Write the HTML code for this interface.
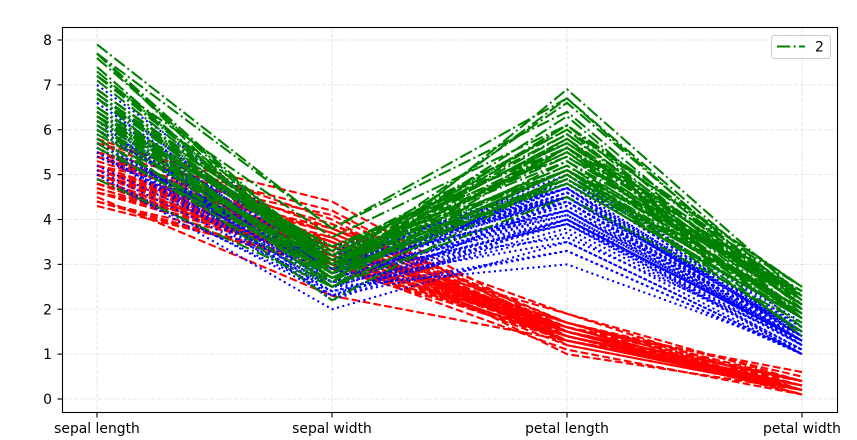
<!DOCTYPE html>
<html><head><meta charset="utf-8">
<style>
html,body{margin:0;padding:0;background:#fff;}
svg{display:block;font-family:"DejaVu Sans","Liberation Sans",sans-serif;}
</style></head>
<body>
<svg id="chart" width="857" height="440" viewBox="0 0 857 440">
  <rect x="0" y="0" width="857" height="440" fill="#fff"/>
  <g id="grid"></g>
  <g id="series"></g>
  <rect x="62.5" y="27.5" width="775" height="385" fill="none" stroke="#000" stroke-width="1.1"/>
  <g id="yticks"></g>
  <g id="xticks"></g>
  <g>
    <rect x="771.5" y="35.5" width="59" height="23" rx="2.5" fill="#fff" fill-opacity="0.8" stroke="#ccc"/>
    <line x1="777" y1="46.5" x2="805" y2="46.5" stroke="green" stroke-width="2.08" stroke-dasharray="13.3,3.3,2.08,3.3"/>
    <text x="815" y="51.5" font-size="13.9" fill="#000">2</text>
  </g>
</svg>
<script>
const categories = ["sepal length","sepal width","petal length","petal width"];
const yTicks = [0,1,2,3,4,5,6,7,8];
const setosa = [
[5.1,3.5,1.4,0.2],[4.9,3.0,1.4,0.2],[4.7,3.2,1.3,0.2],[4.6,3.1,1.5,0.2],[5.0,3.6,1.4,0.2],
[5.4,3.9,1.7,0.4],[4.6,3.4,1.4,0.3],[5.0,3.4,1.5,0.2],[4.4,2.9,1.4,0.2],[4.9,3.1,1.5,0.1],
[5.4,3.7,1.5,0.2],[4.8,3.4,1.6,0.2],[4.8,3.0,1.4,0.1],[4.3,3.0,1.1,0.1],[5.8,4.0,1.2,0.2],
[5.7,4.4,1.5,0.4],[5.4,3.9,1.3,0.4],[5.1,3.5,1.4,0.3],[5.7,3.8,1.7,0.3],[5.1,3.8,1.5,0.3],
[5.4,3.4,1.7,0.2],[5.1,3.7,1.5,0.4],[4.6,3.6,1.0,0.2],[5.1,3.3,1.7,0.5],[4.8,3.4,1.9,0.2],
[5.0,3.0,1.6,0.2],[5.0,3.4,1.6,0.4],[5.2,3.5,1.5,0.2],[5.2,3.4,1.4,0.2],[4.7,3.2,1.6,0.2],
[4.8,3.1,1.6,0.2],[5.4,3.4,1.5,0.4],[5.2,4.1,1.5,0.1],[5.5,4.2,1.4,0.2],[4.9,3.1,1.5,0.1],
[5.0,3.2,1.2,0.2],[5.5,3.5,1.3,0.2],[4.9,3.1,1.5,0.1],[4.4,3.0,1.3,0.2],[5.1,3.4,1.5,0.2],
[5.0,3.5,1.3,0.3],[4.5,2.3,1.3,0.3],[4.4,3.2,1.3,0.2],[5.0,3.5,1.6,0.6],[5.1,3.8,1.9,0.4],
[4.8,3.0,1.4,0.3],[5.1,3.8,1.6,0.2],[4.6,3.2,1.4,0.2],[5.3,3.7,1.5,0.2],[5.0,3.3,1.4,0.2]];
const versicolor = [
[7.0,3.2,4.7,1.4],[6.4,3.2,4.5,1.5],[6.9,3.1,4.9,1.5],[5.5,2.3,4.0,1.3],[6.5,2.8,4.6,1.5],
[5.7,2.8,4.5,1.3],[6.3,3.3,4.7,1.6],[4.9,2.4,3.3,1.0],[6.6,2.9,4.6,1.3],[5.2,2.7,3.9,1.4],
[5.0,2.0,3.5,1.0],[5.9,3.0,4.2,1.5],[6.0,2.2,4.0,1.0],[6.1,2.9,4.7,1.4],[5.6,2.9,3.6,1.3],
[6.7,3.1,4.4,1.4],[5.6,3.0,4.5,1.5],[5.8,2.7,4.1,1.0],[6.2,2.2,4.5,1.5],[5.6,2.5,3.9,1.1],
[5.9,3.2,4.8,1.8],[6.1,2.8,4.0,1.3],[6.3,2.5,4.9,1.5],[6.1,2.8,4.7,1.2],[6.4,2.9,4.3,1.3],
[6.6,3.0,4.4,1.4],[6.8,2.8,4.8,1.4],[6.7,3.0,5.0,1.7],[6.0,2.9,4.5,1.5],[5.7,2.6,3.5,1.0],
[5.5,2.4,3.8,1.1],[5.5,2.4,3.7,1.0],[5.8,2.7,3.9,1.2],[6.0,2.7,5.1,1.6],[5.4,3.0,4.5,1.5],
[6.0,3.4,4.5,1.6],[6.7,3.1,4.7,1.5],[6.3,2.3,4.4,1.3],[5.6,3.0,4.1,1.3],[5.5,2.5,4.0,1.3],
[5.5,2.6,4.4,1.2],[6.1,3.0,4.6,1.4],[5.8,2.6,4.0,1.2],[5.0,2.3,3.3,1.0],[5.6,2.7,4.2,1.3],
[5.7,3.0,4.2,1.2],[5.7,2.9,4.2,1.3],[6.2,2.9,4.3,1.3],[5.1,2.5,3.0,1.1],[5.7,2.8,4.1,1.3]];
const virginica = [
[6.3,3.3,6.0,2.5],[5.8,2.7,5.1,1.9],[7.1,3.0,5.9,2.1],[6.3,2.9,5.6,1.8],[6.5,3.0,5.8,2.2],
[7.6,3.0,6.6,2.1],[4.9,2.5,4.5,1.7],[7.3,2.9,6.3,1.8],[6.7,2.5,5.8,1.8],[7.2,3.6,6.1,2.5],
[6.5,3.2,5.1,2.0],[6.4,2.7,5.3,1.9],[6.8,3.0,5.5,2.1],[5.7,2.5,5.0,2.0],[5.8,2.8,5.1,2.4],
[6.4,3.2,5.3,2.3],[6.5,3.0,5.5,1.8],[7.7,3.8,6.7,2.2],[7.7,2.6,6.9,2.3],[6.0,2.2,5.0,1.5],
[6.9,3.2,5.7,2.3],[5.6,2.8,4.9,2.0],[7.7,2.8,6.7,2.0],[6.3,2.7,4.9,1.8],[6.7,3.3,5.7,2.1],
[7.2,3.2,6.0,1.8],[6.2,2.8,4.8,1.8],[6.1,3.0,4.9,1.8],[6.4,2.8,5.6,2.1],[7.2,3.0,5.8,1.6],
[7.4,2.8,6.1,1.9],[7.9,3.8,6.4,2.0],[6.4,2.8,5.6,2.2],[6.3,2.8,5.1,1.5],[6.1,2.6,5.6,1.4],
[7.7,3.0,6.1,2.3],[6.3,3.4,5.6,2.4],[6.4,3.1,5.5,1.8],[6.0,3.0,4.8,1.8],[6.9,3.1,5.4,2.1],
[6.7,3.1,5.6,2.4],[6.9,3.1,5.1,2.3],[5.8,2.7,5.1,1.9],[6.8,3.2,5.9,2.3],[6.7,3.3,5.7,2.5],
[6.7,3.0,5.2,2.3],[6.3,2.5,5.0,1.9],[6.5,3.0,5.2,2.0],[6.2,3.4,5.4,2.3],[5.9,3.0,5.1,1.8]];

const NS="http://www.w3.org/2000/svg";
function xPos(i){ return 97 + i*(802-97)/(categories.length-1); }
function yPos(v){ return 399 - v*(399-40)/8; }
function mk(tag, attrs, parent){
  const e=document.createElementNS(NS,tag);
  for(const k in attrs) e.setAttribute(k, attrs[k]);
  parent.appendChild(e); return e;
}
const grid=document.getElementById('grid');
const yt=document.getElementById('yticks');
const xt=document.getElementById('xticks');
yTicks.forEach(t=>{
  const y=yPos(t);
  const g=mk('line',{x1:62.5,x2:837.5,y1:y,y2:y,stroke:'#b0b0b0','stroke-opacity':0.3,'stroke-dasharray':'4.1,1.8','stroke-width':1.1},grid);
  
  
  const tk=mk('line',{x1:57.5,x2:62.5,y1:y,y2:y,stroke:'#000','stroke-width':1.1},yt);
  
  
  const tx=mk('text',{x:52,y:y+5,'text-anchor':'end','font-size':13.9,fill:'#000'},yt);
  tx.textContent=t;
  
  
});
categories.forEach((c,i)=>{
  const x=xPos(i);
  const g=mk('line',{x1:x,x2:x,y1:27.5,y2:412.5,stroke:'#b0b0b0','stroke-opacity':0.3,'stroke-dasharray':'4.1,1.8','stroke-width':1.1},grid);
  
  
  const tk=mk('line',{x1:x,x2:x,y1:412.5,y2:417.5,stroke:'#000','stroke-width':1.1},xt);
  
  
  const tx=mk('text',{x:x,y:433,'text-anchor':'middle','font-size':13.9,fill:'#000'},xt);
  tx.textContent=c;
  
  
});
const ser=document.getElementById('series');
function drawClass(rows,color,dash,name){
  rows.forEach(r=>{
    const pts=r.map((v,i)=>xPos(i)+','+yPos(v)).join(' ');
    const p=mk('polyline',{points:pts,fill:'none',stroke:color,'stroke-width':2.08,'stroke-dasharray':dash},ser);
    
    
  });
}
drawClass(setosa,'red','7.7,3.3','line-class-0');
drawClass(versicolor,'blue','2.08,3.44','line-class-1');
drawClass(virginica,'green','13.3,3.3,2.08,3.3','line-class-2');
</script>
</body></html>
